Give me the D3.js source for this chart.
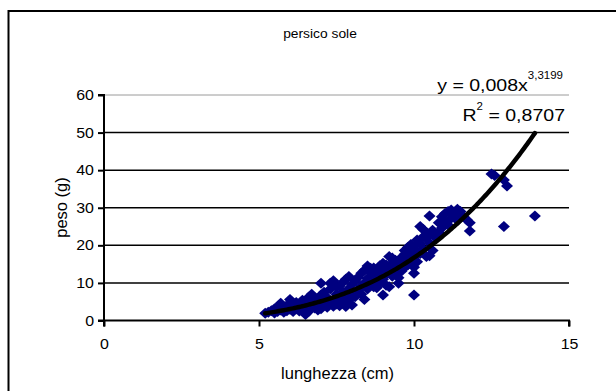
<!DOCTYPE html>
<html>
<head>
  <meta charset="utf-8">
  <title>persico sole</title>
  <style>
    body { margin: 0; background: #fff; }
    svg { display: block; font-family: "Liberation Sans", Arial, sans-serif; }
  </style>
</head>
<body>
  <script src="https://d3js.org/d3.v7.min.js"></script>
  <script>
    // lunghezza (cm) / peso (g) pairs
    var lunghezza = [
      5.2, 5.3, 5.4, 5.5, 5.5, 5.6, 5.6, 5.7, 5.7, 5.8, 5.8, 5.9, 5.9, 6.0, 6.0, 6.0, 6.1, 6.1, 6.2, 6.2,
      6.3, 6.3, 6.4, 6.4, 6.5, 6.5, 6.5, 6.6, 6.6, 6.6, 6.7, 6.7, 6.8, 6.8, 6.8, 6.9, 6.9, 7.0, 7.0, 7.0, 7.0,
      7.1, 7.1, 7.2, 7.2, 7.3, 7.3, 7.3, 7.4, 7.4, 7.4, 7.5, 7.5, 7.5, 7.6, 7.6, 7.6, 7.7, 7.7, 7.7, 7.8, 7.8, 7.8, 7.9, 7.9, 7.9, 8.0, 8.0, 8.0,
      8.1, 8.1, 8.2, 8.2, 8.3, 8.3, 8.3, 8.4, 8.4, 8.4, 8.5, 8.5, 8.5, 8.6, 8.6, 8.6, 8.7, 8.7, 8.7, 8.8, 8.8, 8.8, 8.9, 8.9, 8.9, 9.0, 9.0, 9.0, 9.0,
      9.1, 9.1, 9.1, 9.2, 9.2, 9.2, 9.3, 9.3, 9.3, 9.4, 9.4, 9.4, 9.5, 9.5, 9.5, 9.6, 9.6, 9.6, 9.7, 9.7, 9.7, 9.8, 9.8, 9.8, 9.9, 9.9, 9.9, 10.0, 10.0, 10.0, 10.0, 10.0,
      10.1, 10.1, 10.1, 10.2, 10.2, 10.2, 10.3, 10.3, 10.3, 10.4, 10.4, 10.4, 10.5, 10.5, 10.5, 10.5, 10.6, 10.6, 10.7, 10.8, 10.8, 10.9, 10.9, 11.0, 11.0,
      11.1, 11.1, 11.2, 11.2, 11.3, 11.4, 11.4, 11.5, 11.5, 11.6, 11.7, 11.8, 11.8,
      12.5, 12.6, 12.9, 13.0, 12.9, 13.9
    ];
    var peso = [
      1.9, 2.2, 2.6, 2.0, 3.1, 2.4, 3.6, 4.6, 2.8, 3.3, 2.2, 4.0, 2.6, 5.6, 3.0, 4.3, 3.5, 2.4, 4.8, 3.1,
      2.5, 4.2, 3.6, 5.4, 1.6, 3.0, 4.6, 6.2, 2.4, 3.9, 5.1, 7.0, 3.3, 4.5, 6.0, 2.8, 5.6, 9.9, 4.0, 3.1, 6.8,
      5.0, 7.5, 3.5, 6.1, 8.4, 4.6, 9.9, 5.5, 3.8, 10.6, 7.0, 4.4, 8.9, 6.0, 9.2, 3.9, 7.6, 5.0, 10.1, 11.0, 6.5, 3.7, 8.5, 5.5, 11.7, 4.1, 7.2, 9.6,
      10.6, 6.3, 8.0, 11.5, 7.0, 9.2, 12.6, 5.6, 10.0, 13.4, 8.4, 11.2, 14.5, 9.8, 12.8, 13.9, 9.0, 11.8, 14.0, 10.6, 13.2, 8.7, 12.2, 14.6, 10.0, 6.8, 13.5, 15.2, 11.0,
      12.4, 14.8, 9.4, 17.0, 13.6, 9.0, 15.3, 11.8, 16.6, 14.3, 12.6, 16.0, 9.9, 14.9, 11.4, 16.8, 13.2, 15.6, 14.2, 17.6, 18.6, 16.2, 19.4, 14.8, 18.0, 15.6, 20.2, 6.8, 12.6, 17.0, 19.6, 14.2,
      18.2, 21.4, 15.6, 20.4, 25.0, 17.8, 22.3, 19.0, 24.2, 17.0, 21.8, 23.4, 17.2, 20.6, 27.8, 22.8, 24.0, 18.6, 22.0, 26.0, 23.4, 27.6, 24.6, 26.2, 28.5,
      29.0, 25.4, 27.2, 29.4, 28.0, 29.6, 26.6, 29.0, 28.2, 27.6, 26.8, 26.0, 23.8,
      39.0, 38.6, 37.4, 35.8, 25.0, 27.8
    ];

    // power trendline y = a * x^b
    var trendA = 0.008, trendB = 3.3199, trendR2 = "0,8707";
    var trendFrom = 5.2, trendTo = 13.9;

    var xTicks = [0, 5, 10, 15];
    var yTicks = [0, 10, 20, 30, 40, 50, 60];

    var W = 616, H = 391;
    var svg = d3.select("body").append("svg")
        .attr("width", W)
        .attr("height", H);

    svg.append("rect").attr("width", W).attr("height", H).attr("fill", "#fff");

    // chart area border (runs off right and bottom)
    svg.append("rect")
        .attr("x", 8.5).attr("y", 11)
        .attr("width", 700).attr("height", 500)
        .attr("fill", "none")
        .attr("stroke", "#000")
        .attr("stroke-width", 2);

    var x = d3.scaleLinear().domain([0, 15]).range([104, 569]);
    var y = d3.scaleLinear().domain([0, 60]).range([320.5, 95]);

    // stretch text horizontally like the original
    function stretch(sel, sx) {
      sel.each(function() {
        var len = this.getComputedTextLength();
        d3.select(this).attr("textLength", len * sx).attr("lengthAdjust", "spacingAndGlyphs");
      });
    }

    // gridlines
    svg.append("g").selectAll("line")
        .data(yTicks.filter(d => d > 0))
      .enter().append("line")
        .attr("x1", x(0)).attr("x2", x(15))
        .attr("y1", d => y(d)).attr("y2", d => y(d))
        .attr("stroke", d => d === 60 ? "#9a9a9a" : "#000")
        .attr("stroke-width", d => d === 60 ? 1 : 1.5);

    // points
    var pts = lunghezza.map((l, i) => ({l: l, p: peso[i]}));
    svg.append("g").selectAll("path")
        .data(pts)
      .enter().append("path")
        .attr("d", d => {
          var cx = x(d.l), cy = y(d.p);
          return "M" + (cx - 6) + "," + cy + "L" + cx + "," + (cy - 5.5) +
                 "L" + (cx + 6) + "," + cy + "L" + cx + "," + (cy + 5.5) + "Z";
        })
        .attr("fill", "#000080");

    // trendline
    var trendPts = d3.range(trendFrom, trendTo + 0.001, 0.05).map(v => [v, trendA * Math.pow(v, trendB)]);
    svg.append("path")
        .attr("d", d3.line().x(d => x(d[0])).y(d => y(d[1]))(trendPts))
        .attr("fill", "none")
        .attr("stroke", "#000")
        .attr("stroke-width", 4.5)
        .attr("stroke-linecap", "round");

    // axes
    var yAxis = svg.append("g")
        .attr("transform", "translate(" + x(0) + ",0)")
        .call(d3.axisLeft(y).tickValues(yTicks).tickSize(6).tickPadding(4));
    var xAxis = svg.append("g")
        .attr("transform", "translate(0," + y(0) + ")")
        .call(d3.axisBottom(x).tickValues(xTicks).tickSize(6).tickPadding(12));

    [yAxis, xAxis].forEach(function(a) {
      a.select(".domain").attr("stroke", "#000").attr("stroke-width", 2);
      a.selectAll(".tick line").attr("stroke", "#000").attr("stroke-width", 2);
      a.selectAll(".tick text")
          .attr("fill", "#000")
          .style("font-family", "'Liberation Sans', Arial, sans-serif")
          .style("font-size", "14.5px");
    });
    xAxis.select(".domain").attr("d", "M" + x(0) + ",6V0H" + x(15) + "V6");
    yAxis.select(".domain").attr("d", "M-6," + y(60) + "H0V" + y(0) + "H-6");
    stretch(yAxis.selectAll(".tick text"), 1.1);
    stretch(xAxis.selectAll(".tick text"), 1.1);

    // title
    var title = svg.append("text")
        .attr("x", 320).attr("y", 38)
        .attr("text-anchor", "middle")
        .style("font-size", "12px")
        .text("persico sole");
    stretch(title, 1.15);

    // axis titles
    svg.append("text")
        .attr("x", 337.5).attr("y", 379)
        .attr("text-anchor", "middle")
        .style("font-size", "16.5px")
        .text("lunghezza (cm)");

    svg.append("text")
        .attr("transform", "translate(67,207.5) rotate(-90)")
        .attr("text-anchor", "middle")
        .style("font-size", "16.5px")
        .text("peso (g)");

    // trendline equation
    var eq1 = svg.append("text")
        .attr("transform", "translate(563,91) scale(1.15,1)")
        .attr("text-anchor", "end");
    eq1.append("tspan").style("font-size", "17px").text("y = " + String(trendA).replace(".", ",") + "x");
    eq1.append("tspan").style("font-size", "10px").attr("dy", -12).text(String(trendB).replace(".", ","));

    var eq2 = svg.append("text")
        .attr("transform", "translate(565,121) scale(1.15,1)")
        .attr("text-anchor", "end");
    eq2.append("tspan").style("font-size", "17px").text("R");
    eq2.append("tspan").style("font-size", "10px").attr("dy", -11).text("2");
    eq2.append("tspan").style("font-size", "17px").attr("dy", 11).text(" = " + trendR2);
  </script>
</body>
</html>
